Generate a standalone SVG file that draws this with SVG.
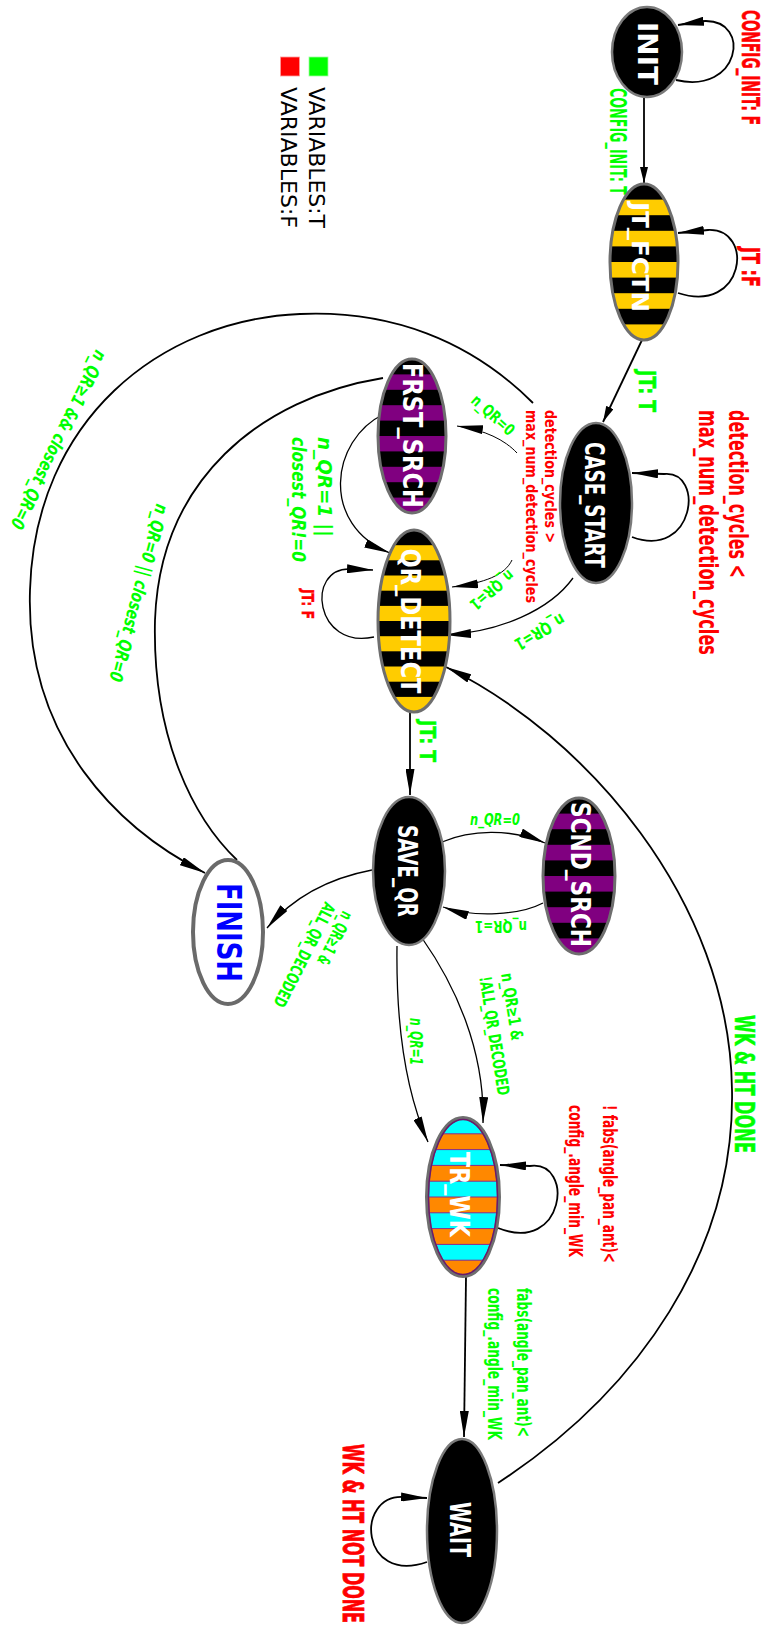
<svg xmlns="http://www.w3.org/2000/svg" width="764" height="1626" viewBox="0 0 764 1626">
  <style>
    .lbl { font-family: 'DejaVu Sans Condensed', 'DejaVu Sans', sans-serif; font-stretch: condensed; font-weight: bold; }
    .nl { fill: #ffffff; }
    .g { fill: #00ff00; }
    .r { fill: #ff0000; }
    .b { stroke-width: 0.5; }
    .g.b { stroke: #00ff00; }
    .r.b { stroke: #ff0000; }
    .i { font-style: italic; }
    .e { fill: none; stroke: #000; stroke-width: 1.8; }
    .thin { stroke-width: 1; }
    .mid { stroke-width: 1.3; }
    .ring { fill: none; stroke: #6e6e6e; stroke-width: 3; }
    .leg { font-family: 'DejaVu Sans', sans-serif; font-size: 22px; fill: #000; }
  </style>
  <defs>
    <marker id="ah" markerUnits="userSpaceOnUse" markerWidth="26" markerHeight="9" viewBox="0 0 26 9" refX="26" refY="4.5" orient="auto">
      <path d="M0,0 L26,4.5 L0,9 z" fill="#000"/>
    </marker>
    <marker id="ahs" markerUnits="userSpaceOnUse" markerWidth="16" markerHeight="8" viewBox="0 0 16 8" refX="16" refY="4" orient="auto">
      <path d="M0,0 L16,4 L0,8 z" fill="#000"/>
    </marker>
    <clipPath id="cp-jt"><ellipse cx="644" cy="262" rx="34" ry="78"/></clipPath>
    <clipPath id="cp-frst"><ellipse cx="412" cy="436" rx="34" ry="77"/></clipPath>
    <clipPath id="cp-qr"><ellipse cx="414" cy="621" rx="36" ry="91"/></clipPath>
    <clipPath id="cp-scnd"><ellipse cx="579" cy="876" rx="36" ry="78"/></clipPath>
    <clipPath id="cp-tr"><ellipse cx="463" cy="1197" rx="36" ry="79"/></clipPath>
  </defs>

  <rect width="764" height="1626" fill="#ffffff"/>

  <!-- legend -->
  <g id="legend">
    <rect x="309" y="57" width="19" height="19" fill="#00ff00" stroke="#9cff9c" stroke-width="0.8"/>
    <rect x="280.5" y="57" width="19" height="19" fill="#ff0000" stroke="#ff9c9c" stroke-width="0.8"/>
    <text class="leg" transform="translate(308.5,87) rotate(90)" textLength="141" lengthAdjust="spacingAndGlyphs">VARIABLES:T</text>
    <text class="leg" transform="translate(281,87) rotate(90)" textLength="141" lengthAdjust="spacingAndGlyphs">VARIABLES:F</text>
  </g>

  <!-- connectors -->
  <g id="edges">
    <path class="e" d="M676,80 C740,95 752,20 705,21 L678,25" marker-end="url(#ah)"/>
    <path class="e" d="M644,97 L644,183" marker-end="url(#ahs)"/>
    <path class="e" d="M678,293 C745,315 755,228 708,230 L678,233" marker-end="url(#ah)"/>
    <path class="e" d="M642,340 L603,422" marker-end="url(#ahs)"/>
    <path class="e" d="M632,537 C695,560 705,470 664,474 L632,473" marker-end="url(#ah)"/>
    <path class="e" d="M533,403 C470,340 390,310 300,314 C160,320 35,420 30,590 C25,740 120,830 205,873" marker-end="url(#ah)"/>
    <path class="e thin" d="M517,453 C505,440 485,430 457,426" marker-end="url(#ah)"/>
    <path class="e thin" d="M512,560 C505,575 485,583 452,587" marker-end="url(#ah)"/>
    <path class="e mid" d="M573,578 C550,610 500,632 445,635" marker-end="url(#ah)"/>
    <path class="e" d="M383,378 C260,398 160,480 155,620 C152,740 195,820 237,860"/>
    <path class="e mid" d="M384,414 C330,440 320,525 390,553" marker-end="url(#ah)"/>
    <path class="e mid" d="M374,637 C315,650 305,568 350,569 L373,570" marker-end="url(#ah)"/>
    <path class="e" d="M410,712 L410,795" marker-end="url(#ah)"/>
    <path class="e mid" d="M442,842 C470,830 510,828 545,843" marker-end="url(#ah)"/>
    <path class="e mid" d="M543,903 C520,915 475,918 443,907" marker-end="url(#ah)"/>
    <path class="e mid" d="M372,870 C330,878 295,895 267,928" marker-end="url(#ah)"/>
    <path class="e mid" d="M397,946 C396,1020 405,1090 428,1142" marker-end="url(#ah)"/>
    <path class="e mid" d="M422,938 C455,985 485,1050 483,1123" marker-end="url(#ah)"/>
    <path class="e" d="M498,1228 C565,1255 575,1160 530,1166 L500,1165" marker-end="url(#ah)"/>
    <path class="e" d="M466,1277 L464,1437" marker-end="url(#ah)"/>
    <path class="e" d="M427,1562 C360,1585 355,1495 403,1497 L427,1498" marker-end="url(#ah)"/>
    <path class="e" d="M498,1483 C640,1390 735,1250 732,1090 C730,900 585,735 446,667" marker-end="url(#ah)"/>
  </g>

  <!-- edge labels -->
  <g id="edge-labels" class="lbl">
    <text class="r b" font-size="24" text-anchor="middle" transform="translate(742,67.5) rotate(90)" textLength="115" lengthAdjust="spacingAndGlyphs">CONFIG_INIT: F</text>
    <text class="g" font-size="23" text-anchor="middle" transform="translate(610,141.5) rotate(90)" textLength="107" lengthAdjust="spacingAndGlyphs">CONFIG_INIT: T</text>
    <text class="r b" font-size="24" text-anchor="middle" transform="translate(742,267) rotate(90)" textLength="40" lengthAdjust="spacingAndGlyphs">JT :F</text>
    <text class="g b" font-size="23" text-anchor="middle" transform="translate(639,391) rotate(90)" textLength="42" lengthAdjust="spacingAndGlyphs">JT: T</text>
    <text class="r" font-size="27" transform="translate(729,410) rotate(90)" textLength="168" lengthAdjust="spacingAndGlyphs">detection_cycles &lt;</text>
    <text class="r" font-size="27" transform="translate(699,410) rotate(90)" textLength="245" lengthAdjust="spacingAndGlyphs">max_num_detection_cycles</text>
    <text class="r" font-size="16" transform="translate(545,410) rotate(90)" textLength="133" lengthAdjust="spacingAndGlyphs">detection_cycles &gt;</text>
    <text class="r" font-size="16" transform="translate(526,410) rotate(90)" textLength="193" lengthAdjust="spacingAndGlyphs">max_num_detection_cycles</text>
    <text class="g" font-size="16" text-anchor="middle" y="5.5" transform="translate(493,415) rotate(42)" textLength="52" lengthAdjust="spacingAndGlyphs">n_QR=0</text>
    <text class="g" font-size="16" text-anchor="middle" y="5.5" transform="translate(492,590) rotate(140)" textLength="52" lengthAdjust="spacingAndGlyphs">n_QR=1</text>
    <text class="g" font-size="17" text-anchor="middle" y="6" transform="translate(540,632) rotate(150)" textLength="55" lengthAdjust="spacingAndGlyphs">n_QR=1</text>
    <text class="g i" font-size="20" transform="translate(318,437) rotate(90)" textLength="100" lengthAdjust="spacingAndGlyphs">n_QR=1 ||</text>
    <text class="g i" font-size="20" transform="translate(292,437) rotate(90)" textLength="125" lengthAdjust="spacingAndGlyphs">closest_QR!=0</text>
    <text class="r b" font-size="15" text-anchor="middle" transform="translate(302,604) rotate(90)" textLength="30" lengthAdjust="spacingAndGlyphs">JT: F</text>
    <text class="g i" font-size="14" text-anchor="middle" y="5" transform="translate(59,440) rotate(116) scale(1,1.3)" textLength="196" lengthAdjust="spacingAndGlyphs">n_QR≥1 &amp;&amp; closest_QR=0</text>
    <text class="g i" font-size="18" text-anchor="middle" y="6.5" transform="translate(139,593) rotate(105)" textLength="183" lengthAdjust="spacingAndGlyphs">n_QR=0 || closest_QR=0</text>
    <text class="g b" font-size="21" text-anchor="middle" transform="translate(420,741) rotate(90)" textLength="42" lengthAdjust="spacingAndGlyphs">JT: T</text>
    <text class="g i" font-size="16" text-anchor="middle" x="495" y="825" textLength="50" lengthAdjust="spacingAndGlyphs">n_QR=0</text>
    <text class="g" font-size="16" text-anchor="middle" transform="translate(501,921) rotate(180)" textLength="52" lengthAdjust="spacingAndGlyphs">n_QR=1</text>
    <g transform="translate(343,910) rotate(117)">
      <text class="g" font-size="17" textLength="58" lengthAdjust="spacingAndGlyphs">n_QR≥1 &amp;</text>
      <text class="g" font-size="17" y="20" textLength="115" lengthAdjust="spacingAndGlyphs">ALL_QR_DECODED</text>
    </g>
    <text class="g i" font-size="18" text-anchor="middle" transform="translate(410,1041.5) rotate(90)" textLength="47" lengthAdjust="spacingAndGlyphs">n_QR=1</text>
    <g transform="translate(501,974) rotate(81)">
      <text class="g" font-size="17" textLength="68" lengthAdjust="spacingAndGlyphs">n_QR≥1 &amp;</text>
      <text class="g" font-size="17" y="22" textLength="120" lengthAdjust="spacingAndGlyphs">!ALL_QR_DECODED</text>
    </g>
    <text class="r" font-size="20" transform="translate(603,1105) rotate(90)" textLength="158" lengthAdjust="spacingAndGlyphs">! fabs(angle_pan_ant)&lt;</text>
    <text class="r" font-size="20" transform="translate(569,1105) rotate(90)" textLength="152" lengthAdjust="spacingAndGlyphs">config_.angle_min_WK</text>
    <text class="g" font-size="20" transform="translate(517,1288) rotate(90)" textLength="149" lengthAdjust="spacingAndGlyphs">fabs(angle_pan_ant)&lt;</text>
    <text class="g" font-size="20" transform="translate(488,1288) rotate(90)" textLength="152" lengthAdjust="spacingAndGlyphs">config_.angle_min_WK</text>
    <text class="g b" font-size="27" transform="translate(735,1015) rotate(90)" textLength="138" lengthAdjust="spacingAndGlyphs">WK &amp; HT DONE</text>
    <text class="r b" font-size="17" transform="translate(343,1444) rotate(90) scale(1,1.65)" textLength="179" lengthAdjust="spacingAndGlyphs">WK &amp; HT NOT DONE</text>
  </g>

  <!-- nodes -->
  <g id="node-INIT">
    <ellipse cx="647" cy="52" rx="35" ry="45" fill="#000" stroke="#7a7a7a" stroke-width="2.5"/>
    <text class="lbl nl" font-size="26" text-anchor="middle" transform="translate(638,53.5) rotate(90)" textLength="63" lengthAdjust="spacingAndGlyphs">INIT</text>
  </g>

  <g id="node-JT_FCTN">
    <g clip-path="url(#cp-jt)">
      <rect x="608" y="182" width="72" height="160" fill="#ffcc00"/>
      <rect x="608" y="182" width="72" height="17.6" fill="#000"/>
      <rect x="608" y="215.2" width="72" height="15.6" fill="#000"/>
      <rect x="608" y="246.4" width="72" height="15.6" fill="#000"/>
      <rect x="608" y="277.6" width="72" height="15.6" fill="#000"/>
      <rect x="608" y="308.8" width="72" height="15.6" fill="#000"/>
    </g>
    <ellipse class="ring" cx="644" cy="262" rx="34" ry="78"/>
    <text class="lbl nl" font-size="23" text-anchor="middle" transform="translate(632,257) rotate(90)" textLength="110" lengthAdjust="spacingAndGlyphs">JT_FCTN</text>
  </g>

  <g id="node-CASE_START">
    <ellipse cx="596" cy="503" rx="36" ry="80" fill="#000" stroke="#7a7a7a" stroke-width="2.5"/>
    <text class="lbl nl" font-size="27" text-anchor="middle" transform="translate(585,505) rotate(90)" textLength="126" lengthAdjust="spacingAndGlyphs">CASE_START</text>
  </g>

  <g id="node-FRST_SRCH">
    <g clip-path="url(#cp-frst)">
      <rect x="376" y="357" width="72" height="158" fill="#800080"/>
      <rect x="376" y="357" width="72" height="17.4" fill="#000"/>
      <rect x="376" y="389.8" width="72" height="15.4" fill="#000"/>
      <rect x="376" y="420.6" width="72" height="15.4" fill="#000"/>
      <rect x="376" y="451.4" width="72" height="15.4" fill="#000"/>
      <rect x="376" y="482.2" width="72" height="15.4" fill="#000"/>
    </g>
    <ellipse class="ring" cx="412" cy="436" rx="34" ry="77"/>
    <text class="lbl nl" font-size="27" text-anchor="middle" transform="translate(403,435.5) rotate(90)" textLength="145" lengthAdjust="spacingAndGlyphs">FRST_SRCH</text>
  </g>

  <g id="node-QR_DETECT">
    <g clip-path="url(#cp-qr)">
      <rect x="376" y="528" width="76" height="186" fill="#ffcc00"/>
      <rect x="376" y="528" width="76" height="17.2" fill="#000"/>
      <rect x="376" y="560.3" width="76" height="15.2" fill="#000"/>
      <rect x="376" y="590.7" width="76" height="15.2" fill="#000"/>
      <rect x="376" y="621" width="76" height="15.2" fill="#000"/>
      <rect x="376" y="651.3" width="76" height="15.2" fill="#000"/>
      <rect x="376" y="681.7" width="76" height="15.2" fill="#000"/>
    </g>
    <ellipse class="ring" cx="414" cy="621" rx="36" ry="91"/>
    <text class="lbl nl" font-size="27" text-anchor="middle" transform="translate(401,621) rotate(90)" textLength="145" lengthAdjust="spacingAndGlyphs">QR_DETECT</text>
  </g>

  <g id="node-SAVE_QR">
    <ellipse cx="409" cy="871" rx="36" ry="74" fill="#000" stroke="#7a7a7a" stroke-width="2.5"/>
    <text class="lbl nl" font-size="26" text-anchor="middle" transform="translate(398,871) rotate(90)" textLength="92" lengthAdjust="spacingAndGlyphs">SAVE_QR</text>
  </g>

  <g id="node-SCND_SRCH">
    <g clip-path="url(#cp-scnd)">
      <rect x="541" y="796" width="76" height="162" fill="#800080"/>
      <rect x="541" y="796" width="76" height="17.6" fill="#000"/>
      <rect x="541" y="829.2" width="76" height="15.6" fill="#000"/>
      <rect x="541" y="860.4" width="76" height="15.6" fill="#000"/>
      <rect x="541" y="891.6" width="76" height="15.6" fill="#000"/>
      <rect x="541" y="922.8" width="76" height="15.6" fill="#000"/>
    </g>
    <ellipse class="ring" cx="579" cy="876" rx="36" ry="78"/>
    <text class="lbl nl" font-size="27" text-anchor="middle" transform="translate(571,874.5) rotate(90)" textLength="145" lengthAdjust="spacingAndGlyphs">SCND_SRCH</text>
  </g>

  <g id="node-FINISH">
    <ellipse cx="228" cy="932" rx="35" ry="72" fill="#fff" stroke="#6a6a6a" stroke-width="4"/>
    <text class="lbl" font-size="34" fill="#0000ff" text-anchor="middle" transform="translate(217,932.5) rotate(90)" textLength="99" lengthAdjust="spacingAndGlyphs">FINISH</text>
  </g>

  <g id="node-TR_WK">
    <g clip-path="url(#cp-tr)">
      <rect x="425" y="1116" width="76" height="164" fill="#ff8800"/>
      <rect x="425" y="1116" width="76" height="17.8" fill="#00ffff"/>
      <rect x="425" y="1149.6" width="76" height="15.8" fill="#00ffff"/>
      <rect x="425" y="1181.2" width="76" height="15.8" fill="#00ffff"/>
      <rect x="425" y="1212.8" width="76" height="15.8" fill="#00ffff"/>
      <rect x="425" y="1244.4" width="76" height="15.8" fill="#00ffff"/>
      <g stroke="#8a2a8a" stroke-width="1">
        <line x1="425" y1="1133.8" x2="501" y2="1133.8"/>
        <line x1="425" y1="1149.6" x2="501" y2="1149.6"/>
        <line x1="425" y1="1165.4" x2="501" y2="1165.4"/>
        <line x1="425" y1="1181.2" x2="501" y2="1181.2"/>
        <line x1="425" y1="1197" x2="501" y2="1197"/>
        <line x1="425" y1="1212.8" x2="501" y2="1212.8"/>
        <line x1="425" y1="1228.6" x2="501" y2="1228.6"/>
        <line x1="425" y1="1244.4" x2="501" y2="1244.4"/>
        <line x1="425" y1="1260.2" x2="501" y2="1260.2"/>
      </g>
    </g>
    <ellipse cx="463" cy="1197" rx="36" ry="79" fill="none" stroke="#6e6e6e" stroke-width="4"/>
    <ellipse cx="463" cy="1197" rx="34.5" ry="77.5" fill="none" stroke="#6a1a6a" stroke-width="1.5"/>
    <text class="lbl nl" font-size="27" text-anchor="middle" transform="translate(450,1194.5) rotate(90)" textLength="85" lengthAdjust="spacingAndGlyphs">TR_WK</text>
  </g>

  <g id="node-WAIT">
    <ellipse cx="462" cy="1531" rx="35" ry="92" fill="#000" stroke="#7a7a7a" stroke-width="2.5"/>
    <text class="lbl nl" font-size="28" text-anchor="middle" transform="translate(450,1529.5) rotate(90)" textLength="55" lengthAdjust="spacingAndGlyphs">WAIT</text>
  </g>
</svg>
